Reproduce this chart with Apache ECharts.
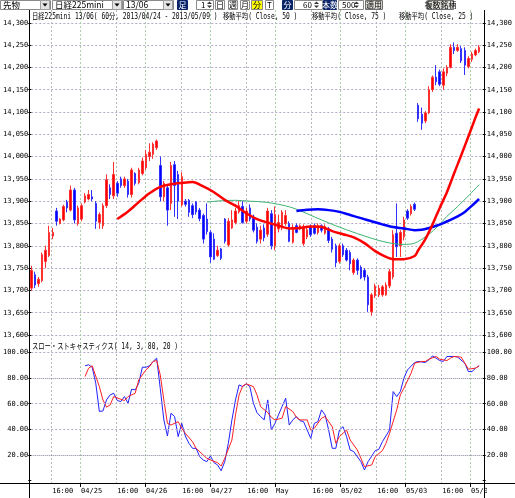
<!DOCTYPE html>
<html>
<head>
<meta charset="utf-8">
<script src="https://cdn.jsdelivr.net/npm/echarts@6/dist/echarts.min.js"></script>
<style>
html, body { margin: 0; padding: 0; background: #fff; }
#chart { width: 515px; height: 498px; }
</style>
</head>
<body>
<div id="chart"></div>
<script>
// x axis: hourly bars, ticks at 16:00 and at date change
const tickIdx = [6, 14, 24, 32, 42, 50, 60, 68, 78, 86, 96, 104, 114, 122];
const tickLabels = ['16:00', '04/25', '16:00', '04/26', '16:00', '04/27', '16:00', 'May', '16:00', '05/02', '16:00', '05/03', '16:00', '05/08'];
const dateIdx = [14, 32, 50, 68, 86, 104, 122];

// 日経225mini 60分足
const opens = [13705,13735,13715,13722,13765,13778,13822,13878,13850,13858,13898,13880,13925,13850,13860,13898,13905,13910,13895,13852,
  13845,13890,13930,13912,13940,13950,13935,13945,13915,13962,13942,13962,13975,14000,14005,14020,13980,13910,13930,13895,
  13982,13960,13892,13900,13902,13890,13898,13880,13868,13860,13830,13815,13778,13793,13860,13802,13840,13852,13876,13888,
  13855,13885,13862,13842,13815,13840,13826,13872,13800,13838,13840,13850,13850,13808,13845,13838,13805,13820,13843,13845,
  13830,13845,13828,13838,13815,13800,13765,13800,13790,13785,13740,13768,13752,13745,13730,13652,13688,13690,13690,13690,
  13710,13730,13828,13800,13820,13878,13872,13893,14115,14095,14080,14098,14150,14178,14190,14160,14187,14200,14245,14238,
  14242,14238,14202,14218,14228,14235];
const closes = [13745,13712,13725,13780,13790,13830,13830,13855,13860,13888,13885,13925,13858,13885,13890,13912,13915,13905,13855,13870,
  13890,13948,13915,13960,13918,13935,13950,13915,13970,13940,13970,13990,14005,14010,14028,14035,13910,13940,13880,13980,
  13935,13900,13955,13893,13875,13870,13876,13861,13815,13832,13775,13770,13790,13772,13810,13855,13858,13878,13890,13852,
  13878,13860,13835,13810,13835,13818,13878,13800,13870,13852,13875,13868,13810,13840,13830,13845,13842,13836,13825,13828,
  13845,13835,13843,13812,13792,13762,13800,13780,13768,13760,13768,13745,13728,13730,13668,13690,13710,13705,13708,13712,
  13742,13825,13798,13830,13858,13862,13888,13882,14085,14075,14098,14150,14178,14168,14162,14190,14200,14245,14238,14245,
  14215,14205,14220,14230,14238,14245];
const lows = [13700,13705,13708,13718,13750,13775,13815,13845,13848,13855,13875,13877,13850,13845,13855,13895,13902,13900,13838,13838,
  13838,13885,13905,13905,13910,13930,13930,13908,13908,13935,13938,13958,13970,13990,13995,14015,13900,13900,13845,13880,
  13865,13860,13888,13888,13865,13862,13870,13855,13805,13825,13762,13768,13775,13768,13805,13798,13838,13848,13872,13850,
  13850,13855,13830,13805,13805,13810,13820,13792,13790,13830,13835,13845,13808,13805,13828,13835,13800,13815,13820,13825,
  13825,13830,13825,13806,13785,13752,13760,13775,13765,13745,13735,13735,13725,13722,13652,13643,13683,13685,13686,13688,
  13705,13725,13775,13775,13812,13858,13868,13878,14078,14060,14075,14095,14145,14160,14158,14150,14180,14198,14230,14235,
  14210,14183,14198,14212,14225,14232];
const highs = [13755,13742,13730,13785,13800,13845,13840,13885,13862,13892,13903,13935,13930,13890,13895,13918,13925,13925,13900,13875,
  13895,13960,13938,13988,13945,13955,13955,13950,13975,13965,13975,13998,14015,14030,14032,14038,14000,13945,13935,13988,
  13990,13968,13965,13905,13905,13895,13900,13885,13872,13895,13835,13828,13800,13795,13862,13862,13880,13885,13900,13900,
  13885,13893,13870,13850,13845,13848,13885,13880,13888,13870,13880,13880,13855,13848,13850,13848,13848,13845,13848,13850,
  13850,13848,13848,13842,13820,13805,13805,13805,13795,13790,13772,13772,13756,13750,13735,13694,13715,13712,13712,13718,
  13748,13835,13895,13835,13865,13882,13893,13897,14120,14110,14102,14158,14182,14205,14195,14198,14205,14252,14256,14252,
  14248,14245,14225,14235,14242,14250];

// 移動平均 [bar, value]
const ma50 = [[49,13898],[53,13901],[57,13902],[61,13900],[65,13898],[69,13893],[73,13885],[77,13872],[81,13858],[85,13845],
  [89,13833],[93,13822],[97,13812],[101,13805],[104,13803],[107,13806],[110,13820],[113,13840],[116,13866],[119,13888],[122,13912],[125,13937]];
const ma75 = [[74,13878],[77,13881],[80,13882],[83,13880],[86,13876],[89,13869],[92,13862],[95,13855],[98,13848],[101,13842],
  [104,13839],[107,13835],[109,13836],[111,13840],[113,13845],[115,13851],[117,13858],[119,13866],[121,13876],[123,13890],[125,13905]];
const ma25 = [[24,13860],[27,13877],[30,13898],[33,13918],[36,13932],[39,13938],[42,13941],[45,13943],[48,13933],[51,13920],
  [54,13903],[57,13890],[60,13873],[63,13860],[66,13852],[69,13845],[72,13839],[75,13840],[78,13843],[81,13842],[84,13833],
  [87,13826],[90,13819],[93,13806],[96,13788],[99,13775],[101,13770],[104,13770],[107,13777],[108,13790],[110,13815],[112,13848],
  [114,13885],[116,13920],[118,13962],[120,14003],[122,14045],[124,14088],[125,14108]];

// スロー・ストキャスティクス [bar, value]
const stochK = [[15,89.6],[16,90.4],[17,88.5],[18,76],[19,54],[20,54.4],[21,63],[22,66.9],[23,68.2],[24,62.5],[25,61.7],[26,65.6],
  [27,60.4],[28,71.3],[29,70.8],[30,76],[31,88.5],[32,88.5],[33,89.6],[34,93],[35,95.6],[36,72],[37,47.4],[38,34.8],[39,52.6],
  [40,50],[41,34.3],[42,44.7],[43,34.8],[44,29.1],[45,25.2],[46,25.2],[47,18.7],[48,16.1],[49,14.8],[50,19.2],[51,14],[52,12.2],
  [53,7.7],[54,14.8],[55,29.1],[56,47.4],[57,63],[58,74.7],[59,73.4],[60,75.5],[61,73.4],[62,60.4],[63,53],[64,50],[65,47.4],
  [66,63],[67,39.5],[68,44.7],[69,51.3],[70,57.8],[71,64.3],[72,43.4],[73,47.4],[74,50],[75,46.8],[76,46],[77,39.5],[78,33],
  [79,44.7],[80,46],[81,55.2],[82,51.3],[83,39.5],[84,25.2],[85,25.2],[86,39.5],[87,42.1],[88,34.3],[89,23.9],[90,22.6],[92,14.8],
  [93,8.3],[94,14.8],[96,23.4],[97,24.4],[98,30.4],[100,39.5],[101,69.5],[102,65.6],[103,69.5],[104,79.9],[105,86.4],[107,92.2],
  [108,93],[110,92.2],[111,94.3],[112,97.4],[114,93.7],[115,93],[116,96.9],[118,96.9],[119,96.4],[121,91.7],[122,85.1],[123,85.1],
  [124,87.8],[125,89.6]];
const stochD = [[15,81.2],[16,87.8],[17,89.6],[19,73.4],[20,63],[21,57.3],[22,59.1],[23,65.6],[25,63.5],[26,62.5],[27,65.6],
  [29,68.2],[30,78.6],[32,86.4],[33,89],[34,93],[35,93.7],[36,82.5],[37,63],[38,44.7],[39,43.4],[41,46],[42,40.8],[43,36.9],
  [45,30.4],[46,25.2],[48,20],[49,17.4],[50,16.1],[52,14],[53,11.4],[54,17.4],[56,31.7],[57,51.3],[58,66.9],[59,73.9],[60,75.5],
  [62,73.4],[63,66.9],[64,57.8],[66,53.1],[67,49.4],[68,47.4],[70,48.7],[71,57.8],[73,53.9],[74,49.4],[75,47.4],[77,47.4],
  [78,39.5],[79,40.8],[81,48.7],[82,50],[84,42.1],[85,29.1],[86,34.3],[88,39.5],[89,31.7],[91,23.9],[92,17.4],[93,10.9],[95,12.2],
  [96,18.7],[98,23.4],[99,29.1],[100,36.9],[102,55.2],[103,66.9],[104,72.1],[106,83.8],[107,91.7],[109,93],[110,93],[111,94.8],
  [113,96.9],[114,94.8],[116,93.7],[117,95.6],[118,96.9],[120,96.4],[121,91.7],[122,87],[124,87.8],[125,89.6]];

const cats = Array.from({ length: 127 }, (_, i) => String(i));
const candles = opens.map((o, i) => [o, closes[i], lows[i], highs[i]]);

const monoFont = '"DejaVu Sans Mono", "Noto Sans CJK JP", monospace';
const jpFont = '"Noto Sans CJK JP", sans-serif';
const navy = '#0a246a';

// ツールバー
const bar = [];
function box(x, w, text, fill, color, stroke) {
  bar.push({ type: 'rect', shape: { x: x + 0.5, y: 0.5, width: w, height: 9 },
    style: { fill: fill, stroke: stroke || '#8a8a8a', lineWidth: 1 } });
  if (text) bar.push({ type: 'text', x: x + w / 2 + 0.5, y: 5.2,
    style: { text: text, fill: color || '#000', font: '8px ' + jpFont, align: 'center', verticalAlign: 'middle',
      textAlign: 'center', textVerticalAlign: 'middle' } });
}
function arrow(x) {
  box(x, 9, '', '#e4e4e4', '#000', '#a0a0a0');
  bar.push({ type: 'polygon', shape: { points: [[x + 2.5, 3.5], [x + 7.5, 3.5], [x + 5, 6.5]] }, style: { fill: '#000' } });
}
function spin(x) {
  bar.push({ type: 'polygon', shape: { points: [[x, 4], [x + 5, 4], [x + 2.5, 1.5]] }, style: { fill: '#333' } });
  bar.push({ type: 'polygon', shape: { points: [[x, 5.5], [x + 5, 5.5], [x + 2.5, 8]] }, style: { fill: '#333' } });
}
function label(x, text, size, color) {
  bar.push({ type: 'text', x: x, y: 5.2, style: { text: text, fill: color || '#000', font: size + 'px ' + jpFont,
    align: 'left', verticalAlign: 'middle', textAlign: 'left', textVerticalAlign: 'middle' } });
}
box(0, 50, '', '#fff'); label(3, '先物', 8.5); arrow(40);
box(52, 70, '', '#fff'); label(55, '日経225mini', 8.5); arrow(112);
box(123, 50, '', '#fff'); label(126, '13/06', 8.5); arrow(163);
box(177, 10, '足', navy, '#fff', navy);
box(196, 17, '', '#fff'); label(201, '1', 8); spin(207);
box(215, 9, '日', '#fff');
box(228, 9, '週', '#fff');
box(240, 9, '月', '#fff');
box(251, 11, '分', '#ffff00');
box(265, 8, 'T', '#fff');
box(282, 10, '分', navy, '#fff', navy);
box(294, 28, '', '#fff'); label(303, '60', 8); spin(314);
box(323, 13, '本数', navy, '#fff', navy);
box(338, 25, '', '#fff'); label(342, '500', 8); spin(354);
box(365, 17, '適用', '#e0ded8', '#000', '#707070');
box(427, 26, '複数銘柄', '#e0ded8', '#000', '#707070');

function caption(x, y, text) {
  return { type: 'text', x: x, y: y, scaleX: 0.74, z: 10,
    style: { text: text, fill: '#000', font: '8.5px ' + monoFont, align: 'left', verticalAlign: 'middle',
      textAlign: 'left', textVerticalAlign: 'middle' } };
}
function vline(x, y1, y2) {
  return { type: 'line', z: 20, shape: { x1: x, y1: y1, x2: x, y2: y2 }, style: { stroke: '#000', lineWidth: 1 } };
}

const chart = echarts.init(document.getElementById('chart'));
const axisText = { color: '#000', fontFamily: monoFont, fontSize: 7 };
const gridX = { left: 29.5, right: 30.5 };

chart.setOption({
  animation: false,
  backgroundColor: '#fff',
  grid: [
    Object.assign({ top: 22.8, bottom: 163 }, gridX),
    Object.assign({ top: 352.5, bottom: 17.4 }, gridX),
    Object.assign({ top: 10, bottom: 15 }, gridX)
  ],
  xAxis: [
    { type: 'category', data: cats, gridIndex: 0, boundaryGap: false, show: false },
    { type: 'category', data: cats, gridIndex: 1, boundaryGap: false, show: false },
    {
      type: 'category', data: cats, gridIndex: 2, boundaryGap: false,
      axisLine: { show: false },
      axisTick: { length: 4, interval: (i) => dateIdx.includes(i), lineStyle: { color: '#000' } },
      axisLabel: Object.assign({
        interval: (i) => tickIdx.includes(i), align: 'left', margin: 5, padding: [0, 0, 0, 1],
        formatter: (v, i) => { const k = tickIdx.indexOf(Number(v)); return k >= 0 ? tickLabels[k] : ''; }
      }, axisText),
      splitLine: { show: true, interval: (i) => tickIdx.includes(i),
        lineStyle: { color: ['#b9b9b9', '#a9cfa9'], type: [2, 2], width: 1 } }
    }
  ],
  yAxis: [
    { type: 'value', gridIndex: 0, min: 13600, max: 14300, interval: 50, position: 'left',
      axisLine: { show: false }, axisTick: { show: true, length: 3, lineStyle: { color: '#000' } },
      axisLabel: Object.assign({ margin: 3, formatter: (v) => v.toLocaleString('en-US') }, axisText),
      splitLine: { lineStyle: { color: '#b8a8c8', type: [2, 2] } } },
    { type: 'value', gridIndex: 0, min: 13600, max: 14300, interval: 50, position: 'right',
      axisLine: { show: false }, axisTick: { show: true, length: 3, lineStyle: { color: '#000' } },
      axisLabel: Object.assign({ margin: 4, formatter: (v) => v.toLocaleString('en-US') }, axisText),
      splitLine: { show: false } },
    { type: 'value', gridIndex: 1, min: 0, max: 100, interval: 20, position: 'left',
      axisLine: { show: false }, axisTick: { show: true, length: 3, lineStyle: { color: '#000' } },
      axisLabel: Object.assign({ margin: 3, formatter: (v) => v === 0 ? '' : v.toFixed(2) }, axisText),
      splitLine: { show: false } },
    { type: 'value', gridIndex: 1, min: 0, max: 100, interval: 20, position: 'right',
      axisLine: { show: false }, axisTick: { show: true, length: 3, lineStyle: { color: '#000' } },
      axisLabel: Object.assign({ margin: 4, formatter: (v) => v === 0 ? '' : v.toFixed(2) }, axisText),
      splitLine: { show: false } },
    { type: 'value', gridIndex: 2, min: 0, max: 1, show: false }
  ],
  series: [
    {
      type: 'candlestick', xAxisIndex: 0, yAxisIndex: 0, data: candles, barWidth: 2, clip: false,
      itemStyle: { color: '#ff0000', color0: '#0000ff', borderColor: '#ff3030', borderColor0: '#3030ff', borderWidth: 1 }
    },
    { type: 'line', name: '移動平均( Close, 50 )', xAxisIndex: 0, yAxisIndex: 0, data: ma50, showSymbol: false, smooth: 0.3,
      lineStyle: { color: '#3cb371', width: 1 } },
    { type: 'line', name: '移動平均( Close, 75 )', xAxisIndex: 0, yAxisIndex: 0, data: ma75, showSymbol: false, smooth: 0.3,
      lineStyle: { color: '#0000ff', width: 2.5 } },
    { type: 'line', name: '移動平均( Close, 25 )', xAxisIndex: 0, yAxisIndex: 0, data: ma25, showSymbol: false, smooth: 0.3,
      lineStyle: { color: '#ff0000', width: 2.5 } },
    {
      type: 'line', xAxisIndex: 1, yAxisIndex: 2, data: stochK, showSymbol: false,
      lineStyle: { color: '#2020ff', width: 1 },
      markLine: {
        silent: true, symbol: ['none', 'none'], label: { show: false },
        lineStyle: { color: '#b8a8c8', type: [2, 2], width: 1 },
        data: [
          { yAxis: 100 },
          { yAxis: 80, lineStyle: { color: '#8c7c9c', type: [1, 1] } },
          { yAxis: 60 },
          { yAxis: 40 },
          { yAxis: 20, lineStyle: { color: '#8c7c9c', type: [1, 1] } }
        ]
      }
    },
    { type: 'line', xAxisIndex: 1, yAxisIndex: 2, data: stochD, showSymbol: false,
      lineStyle: { color: '#ff2020', width: 1 } }
  ],
  graphic: [].concat(bar, [
    caption(32, 16.5, '日経225mini 13/06( 60分, 2013/04/24 - 2013/05/09 )'),
    caption(223, 16.5, '移動平均( Close, 50 )'),
    caption(312, 16.5, '移動平均( Close, 75 )'),
    caption(399, 16.5, '移動平均( Close, 25 )'),
    caption(32, 346.5, 'スロー・ストキャスティクス( 14, 3, 80, 20 )'),
    { type: 'rect', z: 15, shape: { x: 487, y: 484, width: 28, height: 14 }, style: { fill: '#fff' } },
    vline(29.5, 10, 498),
    vline(484.5, 10, 498),
    { type: 'line', z: 20, shape: { x1: 0, y1: 483.5, x2: 515, y2: 483.5 }, style: { stroke: '#000', lineWidth: 1 } }
  ])
});
</script>
</body>
</html>
